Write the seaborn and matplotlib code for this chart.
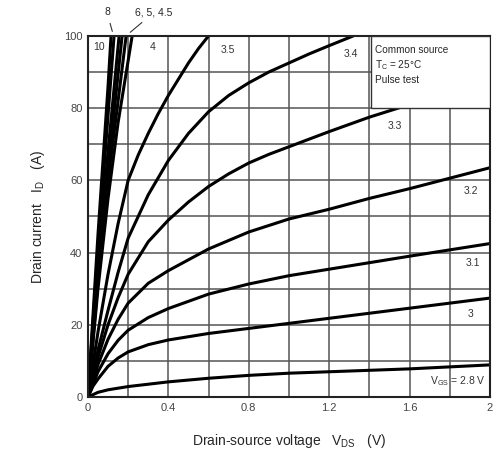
import pandas as pd
import seaborn as sns
import matplotlib.pyplot as plt
from matplotlib.patches import Rectangle

# Output characteristics (VDS in V, ID in A)
vgs_levels = ["2.8", "3", "3.1", "3.2", "3.3", "3.4", "3.5", "4", "4.5", "5", "6", "8", "10"]

vds_28 = [0, 0.05, 0.1, 0.2, 0.4, 0.6, 0.8, 1.0, 1.2, 1.6, 2.0]
id_28 = [0, 1.3, 2.0, 2.9, 4.2, 5.2, 6.0, 6.6, 7.0, 7.8, 8.9]

vds_30 = [0, 0.025, 0.05, 0.1, 0.15, 0.2, 0.3, 0.4, 0.6, 0.8, 1.0, 1.2, 1.6, 2.0]
id_30 = [0, 3, 5, 8.5, 10.8, 12.5, 14.5, 15.8, 17.6, 19, 20.4, 21.8, 24.6, 27.4]

vds_31 = [0, 0.05, 0.1, 0.15, 0.2, 0.3, 0.4, 0.6, 0.8, 1.0, 1.2, 1.6, 2.0]
id_31 = [0, 7, 12, 15.7, 18.5, 22, 24.5, 28.5, 31.3, 33.6, 35.4, 39, 42.5]

vds_32 = [0, 0.05, 0.1, 0.15, 0.2, 0.3, 0.4, 0.6, 0.8, 1.0, 1.2, 1.4, 1.6, 1.8, 2.0]
id_32 = [0, 9, 16, 21.5, 26, 31.5, 35, 41, 45.7, 49.3, 52, 55, 57.7, 60.6, 63.5]

vds_33 = [0, 0.05, 0.1, 0.15, 0.2, 0.3, 0.4, 0.5, 0.6, 0.7, 0.8, 0.9, 1.0, 1.2, 1.4, 1.6]
id_33 = [0, 11, 20, 27.5, 34, 43, 49, 54, 58.3, 61.8, 64.8, 67.2, 69.3, 73.5, 77.5, 81]

vds_34 = [0, 0.05, 0.1, 0.15, 0.2, 0.3, 0.4, 0.5, 0.6, 0.7, 0.8, 0.9, 1.0, 1.1, 1.2, 1.32]
id_34 = [0, 13, 24, 34.5, 44, 56, 65.5, 73, 79, 83.5, 87, 90, 92.5, 95, 97.3, 100]

vds_35 = [0, 0.05, 0.1, 0.15, 0.2, 0.25, 0.3, 0.35, 0.4, 0.45, 0.5, 0.55, 0.6]
id_35 = [0, 18, 34, 48, 60, 67, 73, 78.5, 83.5, 88, 92.5, 96.5, 100]

vds_40 = [0, 0.05, 0.1, 0.15, 0.22]
id_40 = [0, 30, 55, 76, 100]

vds_45 = [0, 0.05, 0.1, 0.15, 0.19]
id_45 = [0, 32, 60, 82, 100]

vds_50 = [0, 0.05, 0.1, 0.17]
id_50 = [0, 34, 63, 100]

vds_60 = [0, 0.05, 0.1, 0.155]
id_60 = [0, 37, 68, 100]

vds_80 = [0, 0.05, 0.1, 0.13]
id_80 = [0, 41, 78, 100]

vds_100 = [0, 0.05, 0.1, 0.115]
id_100 = [0, 45, 86, 100]

curves = {
    "2.8": (vds_28, id_28), "3": (vds_30, id_30), "3.1": (vds_31, id_31),
    "3.2": (vds_32, id_32), "3.3": (vds_33, id_33), "3.4": (vds_34, id_34),
    "3.5": (vds_35, id_35), "4": (vds_40, id_40), "4.5": (vds_45, id_45),
    "5": (vds_50, id_50), "6": (vds_60, id_60), "8": (vds_80, id_80),
    "10": (vds_100, id_100),
}

rows = []
for vgs in vgs_levels:
    v, i = curves[vgs]
    for a, b in zip(v, i):
        rows.append({"VGS": vgs, "VDS": a, "ID": b})
df = pd.DataFrame(rows)

x_ticks = [0, 0.4, 0.8, 1.2, 1.6, 2.0]
x_tick_labels = ["0", "0.4", "0.8", "1.2", "1.6", "2"]
y_ticks = [0, 20, 40, 60, 80, 100]

sns.set_style("white")
plt.rcParams["font.family"] = ["Liberation Sans", "DejaVu Sans"]
plt.rcParams["mathtext.default"] = "regular"

fig = plt.figure(figsize=(4.94, 4.66), dpi=100)
ax = fig.add_axes([0.178, 0.148, 0.814, 0.775])

sns.lineplot(data=df, x="VDS", y="ID", hue="VGS", units="VGS", estimator=None,
             sort=False, palette=["black"] * len(vgs_levels), linewidth=2.2,
             legend=False, ax=ax, zorder=2)

ax.set_xlim(0, 2)
ax.set_ylim(0, 100)
ax.set_xticks([k * 0.2 for k in range(11)], minor=True)
ax.set_yticks(list(range(0, 101, 10)), minor=True)
ax.set_xticks(x_ticks)
ax.set_xticklabels(x_tick_labels)
ax.set_yticks(y_ticks)
ax.grid(True, which="both", color="#555555", linewidth=1.1, zorder=1)
ax.set_axisbelow(True)
ax.tick_params(which="both", length=0, labelsize=8, colors="#444444", pad=4)
for s in ax.spines.values():
    s.set_color("#222222")
    s.set_linewidth(1.5)

ax.set_xlabel("Drain-source voltage   V$_{DS}$   (V)", fontsize=10, labelpad=14)
ax.set_ylabel("Drain current   I$_D$   (A)", fontsize=10, labelpad=12)

# Condition box
ax.add_patch(Rectangle((1.41, 80), 0.59, 20, facecolor="white", edgecolor="#333333",
                       linewidth=1.0, zorder=3))
ax.text(1.43, 97.5, "Common source\nT$_C$ = 25°C\nPulse test", fontsize=7.2,
        va="top", ha="left", linespacing=1.35, zorder=4)

# Curve labels
lab = dict(fontsize=7.5, color="#333333", zorder=4)
ax.text(0.025, 97, "10", va="center", ha="left", **lab)
ax.text(0.305, 97, "4", va="center", ha="left", **lab)
ax.text(0.66, 96, "3.5", va="center", ha="left", **lab)
ax.text(1.27, 95, "3.4", va="center", ha="left", **lab)
ax.text(1.49, 75, "3.3", va="center", ha="left", **lab)
ax.text(1.87, 57, "3.2", va="center", ha="left", **lab)
ax.text(1.88, 37, "3.1", va="center", ha="left", **lab)
ax.text(1.89, 23, "3", va="center", ha="left", **lab)
ax.text(1.98, 4.5, "V$_{GS}$ = 2.8 V", va="center", ha="right", **lab)

ax.annotate("8", xy=(0.125, 100.5), xytext=(0.095, 106.5), fontsize=7.5,
            ha="center", va="center", annotation_clip=False,
            arrowprops=dict(arrowstyle="-", color="#333333", lw=0.8))
ax.annotate("6, 5, 4.5", xy=(0.2, 100.5), xytext=(0.235, 106.5), fontsize=7.5,
            ha="left", va="center", annotation_clip=False,
            arrowprops=dict(arrowstyle="-", color="#333333", lw=0.8))

fig.savefig("out.png", dpi=100, facecolor="white")
